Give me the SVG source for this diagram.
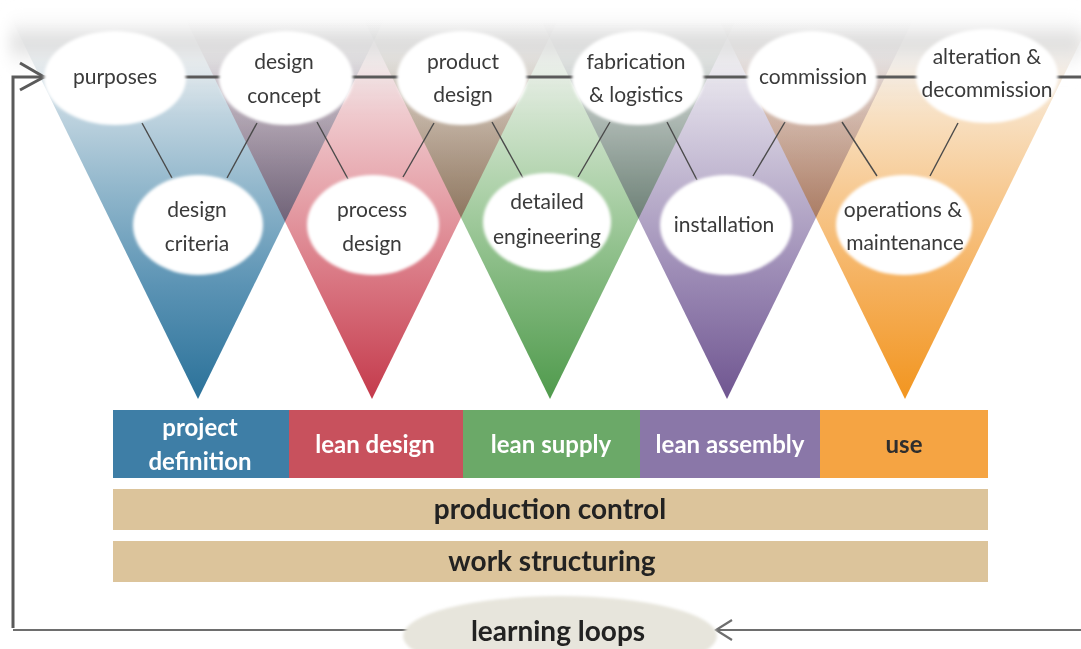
<svg xmlns="http://www.w3.org/2000/svg" width="1081" height="649" viewBox="0 0 1081 649">
  <defs>
    <style>
      .ell { fill: #ffffff; filter: url(#soft); }
      .lbl { font-family: Lato, "Liberation Sans", sans-serif; font-size: 21px; fill: #3a3a3a; text-anchor: middle; }
      .bar { font-family: Lato, "Liberation Sans", sans-serif; font-size: 24px; font-weight: bold; fill: #ffffff; text-anchor: middle; }
      .band { font-family: Lato, "Liberation Sans", sans-serif; font-size: 28px; font-weight: bold; fill: #222222; text-anchor: middle; }
      .tie { stroke: #4a4a4a; stroke-width: 1.4; fill: none; }
      .flow { stroke: #5a5a5a; stroke-width: 3; fill: none; }
      .loop { stroke: #6e6e6e; stroke-width: 2.2; fill: none; }
      .tri { mix-blend-mode: multiply; }
    </style>
    <filter id="soft" x="-10%" y="-10%" width="120%" height="120%">
      <feGaussianBlur stdDeviation="1.6"/>
    </filter>
    <filter id="haze" x="-5%" y="-50%" width="110%" height="200%">
      <feGaussianBlur stdDeviation="7"/>
    </filter>
    <!-- each cone: saturated at the tip, paling upward and fading out at the top -->
    <linearGradient id="gBlue" gradientUnits="userSpaceOnUse" x1="0" y1="400" x2="0" y2="20">
      <stop offset="0" stop-color="#2a7199"/>
      <stop offset="0.3" stop-color="#5b93b4"/>
      <stop offset="0.55" stop-color="#90b6cb"/>
      <stop offset="0.75" stop-color="#bed3df"/>
      <stop offset="0.9" stop-color="#dfe6ea" stop-opacity="0.8"/>
      <stop offset="1" stop-color="#eeeeee" stop-opacity="0"/>
    </linearGradient>
    <linearGradient id="gRed" gradientUnits="userSpaceOnUse" x1="0" y1="400" x2="0" y2="20">
      <stop offset="0" stop-color="#c43a4b"/>
      <stop offset="0.3" stop-color="#d8737f"/>
      <stop offset="0.55" stop-color="#e6a4ab"/>
      <stop offset="0.75" stop-color="#efc9cd"/>
      <stop offset="0.9" stop-color="#ede2e3" stop-opacity="0.8"/>
      <stop offset="1" stop-color="#eeeeee" stop-opacity="0"/>
    </linearGradient>
    <linearGradient id="gGreen" gradientUnits="userSpaceOnUse" x1="0" y1="400" x2="0" y2="20">
      <stop offset="0" stop-color="#4f9a4c"/>
      <stop offset="0.3" stop-color="#80b77c"/>
      <stop offset="0.55" stop-color="#add1a9"/>
      <stop offset="0.75" stop-color="#d0e3cd"/>
      <stop offset="0.9" stop-color="#e4ebe3" stop-opacity="0.8"/>
      <stop offset="1" stop-color="#eeeeee" stop-opacity="0"/>
    </linearGradient>
    <linearGradient id="gPurple" gradientUnits="userSpaceOnUse" x1="0" y1="400" x2="0" y2="20">
      <stop offset="0" stop-color="#6f5590"/>
      <stop offset="0.3" stop-color="#9886b2"/>
      <stop offset="0.55" stop-color="#bbb0cc"/>
      <stop offset="0.75" stop-color="#d8d2e2"/>
      <stop offset="0.9" stop-color="#e7e5eb" stop-opacity="0.8"/>
      <stop offset="1" stop-color="#eeeeee" stop-opacity="0"/>
    </linearGradient>
    <linearGradient id="gOrange" gradientUnits="userSpaceOnUse" x1="0" y1="400" x2="0" y2="20">
      <stop offset="0" stop-color="#f2951f"/>
      <stop offset="0.3" stop-color="#f5b05c"/>
      <stop offset="0.55" stop-color="#f7ca93"/>
      <stop offset="0.75" stop-color="#f8e0c2"/>
      <stop offset="0.9" stop-color="#f0e9e1" stop-opacity="0.8"/>
      <stop offset="1" stop-color="#eeeeee" stop-opacity="0"/>
    </linearGradient>
    <linearGradient id="gHaze" x1="0" y1="0" x2="0" y2="1">
      <stop offset="0" stop-color="#ffffff" stop-opacity="0"/>
      <stop offset="0.5" stop-color="#d2d2d2" stop-opacity="0.75"/>
      <stop offset="1" stop-color="#ffffff" stop-opacity="0"/>
    </linearGradient>
  </defs>

  <rect width="1081" height="649" fill="#ffffff"/>

  <!-- phase cones, blended where they overlap -->
  <g id="cones">
    <polygon class="tri" points="198,399 12,20 384,20" fill="url(#gBlue)"/>
    <polygon class="tri" points="372,399 186,20 558,20" fill="url(#gRed)"/>
    <polygon class="tri" points="550,399 364,20 736,20" fill="url(#gGreen)"/>
    <polygon class="tri" points="727,399 541,20 913,20" fill="url(#gPurple)"/>
    <polygon class="tri" points="905,399 719,20 1091,20" fill="url(#gOrange)"/>
  </g>

  <!-- grey haze along the top -->
  <rect x="10" y="8" width="1071" height="70" fill="url(#gHaze)" filter="url(#haze)"/>

  <!-- connectors -->
  <g id="connectors">
    <!-- main flow line with entry arrow -->
    <path class="flow" d="M13,628 V77 H1081"/>
    <path class="flow" d="M20,63 L44,77 L20,90"/>
    <!-- learning loop return -->
    <path class="loop" d="M1081,630 H716 M13,630 H410"/>
    <path class="loop" d="M732,620 L716,630 L732,640"/>
    <!-- ties between milestones -->
    <line class="tie" x1="142" y1="123" x2="172" y2="178"/>
    <line class="tie" x1="257" y1="123" x2="227" y2="178"/>
    <line class="tie" x1="317" y1="122" x2="348" y2="179"/>
    <line class="tie" x1="434" y1="123" x2="403" y2="177"/>
    <line class="tie" x1="492" y1="122" x2="523" y2="178"/>
    <line class="tie" x1="610" y1="122" x2="578" y2="177"/>
    <line class="tie" x1="667" y1="122" x2="697" y2="180"/>
    <line class="tie" x1="785" y1="122" x2="753" y2="176"/>
    <line class="tie" x1="842" y1="122" x2="877" y2="176"/>
    <line class="tie" x1="958" y1="123" x2="930" y2="176"/>
  </g>

  <!-- upper milestones -->
  <g id="purposes">
    <ellipse class="ell" cx="115" cy="78" rx="71" ry="47"/>
    <text class="lbl" x="115" y="84">purposes</text>
  </g>
  <g id="design-concept">
    <ellipse class="ell" cx="286" cy="78" rx="67" ry="47"/>
    <text class="lbl" x="284" y="69">design</text>
    <text class="lbl" x="284" y="103">concept</text>
  </g>
  <g id="product-design">
    <ellipse class="ell" cx="462" cy="78" rx="65" ry="47"/>
    <text class="lbl" x="463" y="69">product</text>
    <text class="lbl" x="463" y="102">design</text>
  </g>
  <g id="fabrication-logistics">
    <ellipse class="ell" cx="638" cy="78" rx="66" ry="47"/>
    <text class="lbl" x="636" y="69">fabrication</text>
    <text class="lbl" x="636" y="102">&amp; logistics</text>
  </g>
  <g id="commission">
    <ellipse class="ell" cx="812" cy="78" rx="65" ry="47"/>
    <text class="lbl" x="813" y="84">commission</text>
  </g>
  <g id="alteration-decommission">
    <ellipse class="ell" cx="987" cy="76" rx="71" ry="47"/>
    <text class="lbl" x="987" y="64">alteration &amp;</text>
    <text class="lbl" x="987" y="97">decommission</text>
  </g>

  <!-- lower milestones -->
  <g id="design-criteria">
    <ellipse class="ell" cx="198" cy="225" rx="65" ry="50"/>
    <text class="lbl" x="197" y="217">design</text>
    <text class="lbl" x="197" y="251">criteria</text>
  </g>
  <g id="process-design">
    <ellipse class="ell" cx="373" cy="225" rx="66" ry="50"/>
    <text class="lbl" x="372" y="217">process</text>
    <text class="lbl" x="372" y="251">design</text>
  </g>
  <g id="detailed-engineering">
    <ellipse class="ell" cx="547" cy="222" rx="64" ry="49"/>
    <text class="lbl" x="547" y="209">detailed</text>
    <text class="lbl" x="547" y="244">engineering</text>
  </g>
  <g id="installation">
    <ellipse class="ell" cx="726" cy="225" rx="66" ry="50"/>
    <text class="lbl" x="724" y="232">installation</text>
  </g>
  <g id="operations-maintenance">
    <ellipse class="ell" cx="904" cy="225" rx="68" ry="50"/>
    <text class="lbl" x="903" y="217">operations &amp;</text>
    <text class="lbl" x="905" y="250">maintenance</text>
  </g>

  <!-- phase strip -->
  <g id="project-definition">
    <rect x="113" y="410" width="176" height="68" fill="#3e7ea6"/>
    <text class="bar" x="200" y="436">project</text>
    <text class="bar" x="200" y="470">definition</text>
  </g>
  <g id="lean-design">
    <rect x="289" y="410" width="174" height="68" fill="#c8515d"/>
    <text class="bar" x="375" y="453">lean design</text>
  </g>
  <g id="lean-supply">
    <rect x="463" y="410" width="177" height="68" fill="#6ba968"/>
    <text class="bar" x="551" y="453">lean supply</text>
  </g>
  <g id="lean-assembly">
    <rect x="640" y="410" width="180" height="68" fill="#8a77a8"/>
    <text class="bar" x="730" y="453">lean assembly</text>
  </g>
  <g id="use">
    <rect x="820" y="410" width="168" height="68" fill="#f5a443"/>
    <text class="bar" x="904" y="453" style="fill:#2e2e2e">use</text>
  </g>

  <!-- supporting bands -->
  <g id="production-control">
    <rect x="113" y="489" width="875" height="41" fill="#dcc49b"/>
    <text class="band" x="550" y="519">production control</text>
  </g>
  <g id="work-structuring">
    <rect x="113" y="541" width="875" height="41" fill="#dcc49b"/>
    <text class="band" x="552" y="571">work structuring</text>
  </g>

  <!-- feedback -->
  <g id="learning-loops">
    <ellipse cx="560" cy="636" rx="157" ry="40" fill="#e7e5dc" filter="url(#soft)"/>
    <text class="band" x="558" y="641">learning loops</text>
  </g>
</svg>
